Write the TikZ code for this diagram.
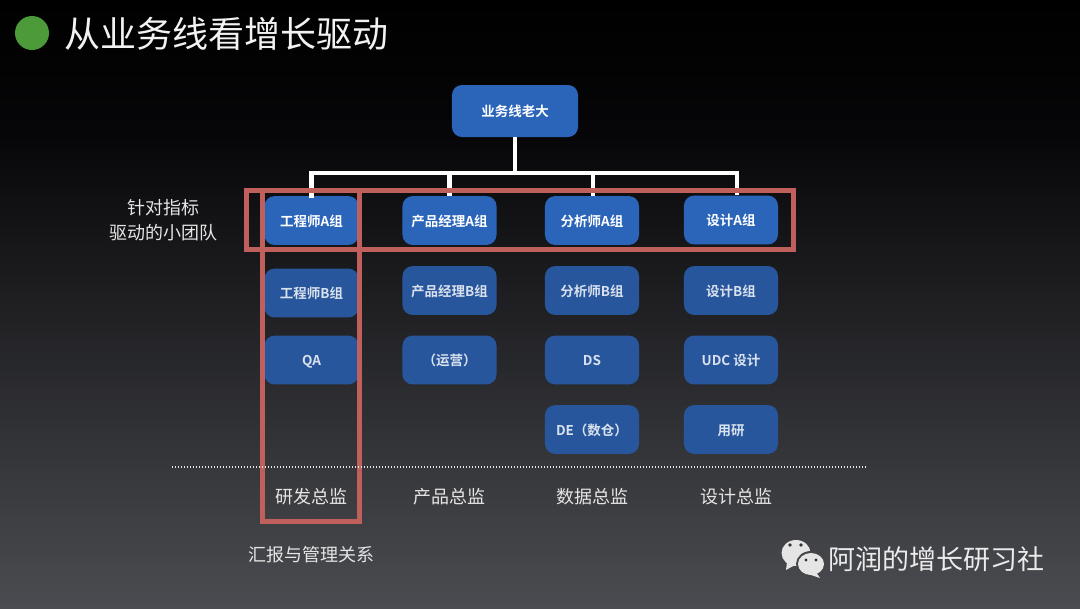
\documentclass[tikz,border=0pt]{standalone}
\usepackage{fontspec}
\setmainfont{Noto Sans CJK SC}[BoldFont={Noto Sans CJK SC Bold}]
\usetikzlibrary{positioning, calc}
\definecolor{boxblue}{HTML}{2B65B9}
\definecolor{boxdim}{HTML}{27569C}
\definecolor{framered}{HTML}{C0605C}
\definecolor{dotgreen}{HTML}{4C9A3A}
\definecolor{bgmid}{HTML}{060608}
\definecolor{bglow}{HTML}{4B4C51}
\tikzset{
	teamA/.style={draw=none, fill=boxblue, rounded corners=.25cm, minimum width=2.35cm, minimum height=1.22cm, inner sep=0, text=white, text height=9.2pt, text depth=1pt, font=\fontsize{9.6}{12}\selectfont\bfseries},
	teamB/.style={teamA, fill=boxdim, text=white!82!boxdim},
	lab/.style={inner sep=0, text=white!90!black, font=\fontsize{12.8}{15}\selectfont},
	link/.style={draw=white, line width=.12cm},
	frame/.style={draw=framered, line width=.125cm}
}
\begin{document}
\begin{tikzpicture}[x=.025cm, y=-.025cm]
	\useasboundingbox (0,0) rectangle (1080,608);
	
	%background
	\shade[top color=black, bottom color=bgmid] (0,0) rectangle (1080,131);
	\shade[top color=bgmid, bottom color=bglow] (0,130) rectangle (1080,608);
	
	%title
	\node[circle, fill=dotgreen, minimum size=.85cm, inner sep=0] (dot) at (32,33) {};
	\node[inner sep=0, anchor=west, text=white!95!black, font=\fontsize{25.6}{30}\selectfont] (title) at (64.5,33.5) {从业务线看增长驱动};
	
	%boxes
	\node[teamA, minimum width=3.15cm, minimum height=1.3cm] (boss) at (515,111) {业务线老大};
	\coordinate (bus) at (515,173);
	
	\node[teamA] (engA) at (311.5,220.5) {工程师A组};
	\node[teamA] (pmA) at (449.5,220.5) {产品经理A组};
	\node[teamA] (daA) at (592,220.5) {分析师A组};
	\node[teamA] (desA) at (731,220) {设计A组};
	
	\node[teamB] (engB) at (311.5,293) {工程师B组};
	\node[teamB] (pmB) at (449.5,290.5) {产品经理B组};
	\node[teamB] (daB) at (592,290.5) {分析师B组};
	\node[teamB] (desB) at (731,290.5) {设计B组};
	
	\node[teamB] (qa) at (311.5,360) {QA};
	\node[teamB] (ops) at (449.5,360) {（运营）};
	\node[teamB] (ds) at (592,360) {DS};
	\node[teamB] (udc) at (731,360) {UDC 设计};
	
	\node[teamB] (de) at (592,429.5) {DE（数仓）};
	\node[teamB] (ur) at (731,429.5) {用研};
	
	%links
	\draw[link] (boss.south) -- (bus);
	\draw[link, line cap=rect] (bus) -| (engA.north);
	\draw[link] (bus) -| (pmA.north);
	\draw[link] (bus) -| ([xshift=.025cm]daA.north);
	\draw[link] (bus) -| ([xshift=.15cm]desA.north);
	
	%frames
	\node[frame, minimum width=13.675cm, minimum height=1.475cm, inner sep=0] (rowframe) at (520,220) {};
	\node[frame, minimum width=2.413cm, minimum height=8.262cm, inner sep=0] (colframe) at (311.25,355.75) {};
	
	%dotted line
	\coordinate (sepL) at (172,467);
	\coordinate (sepR) at (868,467);
	\draw[white!90!black, line width=.03cm, dash pattern=on .03cm off .045cm] (sepL) -- (sepR);
	
	%labels
	\node[lab] (tag1) at (163,208) {针对指标};
	\node[lab] (tag2) at (163,233) {驱动的小团队};
	\node[lab] (headEng) at (311.5,496.5) {研发总监};
	\node[lab] (headPm) at (449.5,496.5) {产品总监};
	\node[lab] (headDa) at (592.5,496.5) {数据总监};
	\node[lab] (headDes) at (736.5,496.5) {设计总监};
	\node[lab] (note) at (311.5,554.5) {汇报与管理关系};
	
	%watermark
	\node[inner sep=0, anchor=west, text=white!92!black, font=\fontsize{19.2}{23}\selectfont] (mark) at (828.5,559) {阿润的增长研习社};
	\fill[white!90!black] (796,553) ellipse (14.5 and 13);
	\fill[white!90!black] (787,562) -- (786,570) -- (795,565) -- cycle;
	\fill[bglow!90!black] (811,564) ellipse (15 and 13);
	\fill[white!90!black] (811,564) ellipse (13 and 11);
	\fill[white!90!black] (816,572) -- (820,578) -- (808,574) -- cycle;
	\fill[black!80] (790,545) circle (1.8);
	\fill[black!80] (801,545) circle (1.8);
	\fill[black!80] (806,560) circle (1.6);
	\fill[black!80] (816,560) circle (1.6);
\end{tikzpicture}
\end{document}
